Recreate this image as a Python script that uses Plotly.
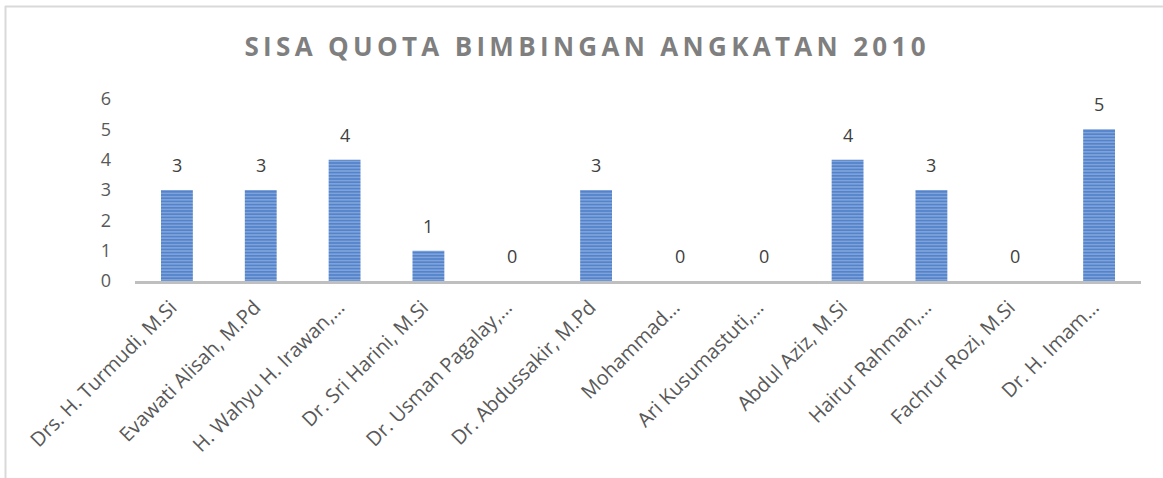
import plotly.graph_objects as go

categories = [
    "Drs. H. Turmudi, M.Si",
    "Evawati Alisah, M.Pd",
    "H. Wahyu H. Irawan,…",
    "Dr. Sri Harini, M.Si",
    "Dr. Usman Pagalay,…",
    "Dr. Abdussakir, M.Pd",
    "Mohammad…",
    "Ari Kusumastuti,…",
    "Abdul Aziz, M.Si",
    "Hairur Rahman,…",
    "Fachrur Rozi, M.Si",
    "Dr. H. Imam…",
]
values = [3, 3, 4, 1, 0, 3, 0, 0, 4, 3, 0, 5]
y_ticks = [0, 1, 2, 3, 4, 5, 6]
title_text = "SISA QUOTA BIMBINGAN ANGKATAN 2010"

W, H = 1163, 478
ML, MR, MT, MB = 135, 22, 99, 197
PW, PH = W - ML - MR, H - MT - MB

FONT = "Open Sans"

# letter-spaced title (thin spaces between characters)
spaced_title = "\u2009".join(list(title_text))

fig = go.Figure()
fig.add_trace(go.Bar(
    x=categories,
    y=values,
    cliponaxis=False,
    marker=dict(
        color="#5b8bd1",
        line=dict(width=0),
        pattern=dict(shape="-", fgcolor="#bcd0ec", bgcolor="#5283cc",
                     size=3.2, solidity=0.42, fillmode="overlay"),
    ),
    hoverinfo="x+y",
))

for c, v in zip(categories, values):
    fig.add_annotation(x=c, y=v, text=str(v), showarrow=False,
                       yshift=25, yanchor="middle",
                       font=dict(family=FONT, size=18, color="#404040"))

def px2x(px):
    return (px - ML) / PW

def px2y(py):
    return (H - MB - py) / PH

border = "#d9d9d9"
fig.add_shape(type="line", xref="paper", yref="paper",
              x0=px2x(5), x1=px2x(1163), y0=px2y(6.5), y1=px2y(6.5),
              line=dict(color=border, width=2))
fig.add_shape(type="line", xref="paper", yref="paper",
              x0=px2x(5.5), x1=px2x(5.5), y0=px2y(6), y1=px2y(480),
              line=dict(color=border, width=2))

fig.update_layout(
    width=W, height=H,
    margin=dict(l=ML, r=MR, t=MT, b=MB, autoexpand=False),
    paper_bgcolor="white",
    plot_bgcolor="white",
    bargap=0.62,
    showlegend=False,
    title=dict(
        text="<b>" + spaced_title + "</b>",
        x=585 / W, xanchor="center",
        y=1 - 47 / H, yanchor="middle",
        font=dict(family=FONT, size=26, color="#7f7f7f"),
    ),
    xaxis=dict(
        showgrid=False,
        showline=True, linecolor="#bfbfbf", linewidth=2.5,
        tickangle=-45,
        tickfont=dict(family=FONT, size=20, color="#595959"),
        ticks="",
        ticklabelshift=-6,
        ticklabelstandoff=4,
    ),
    yaxis=dict(
        range=[0, 6],
        tickvals=y_ticks,
        showgrid=False,
        zeroline=False,
        showline=False,
        tickfont=dict(family=FONT, size=18, color="#595959"),
        ticklabelstandoff=23,
    ),
)

fig.write_html("out.html", config={"displayModeBar": False},
               post_script="document.body.style.margin='0';")
